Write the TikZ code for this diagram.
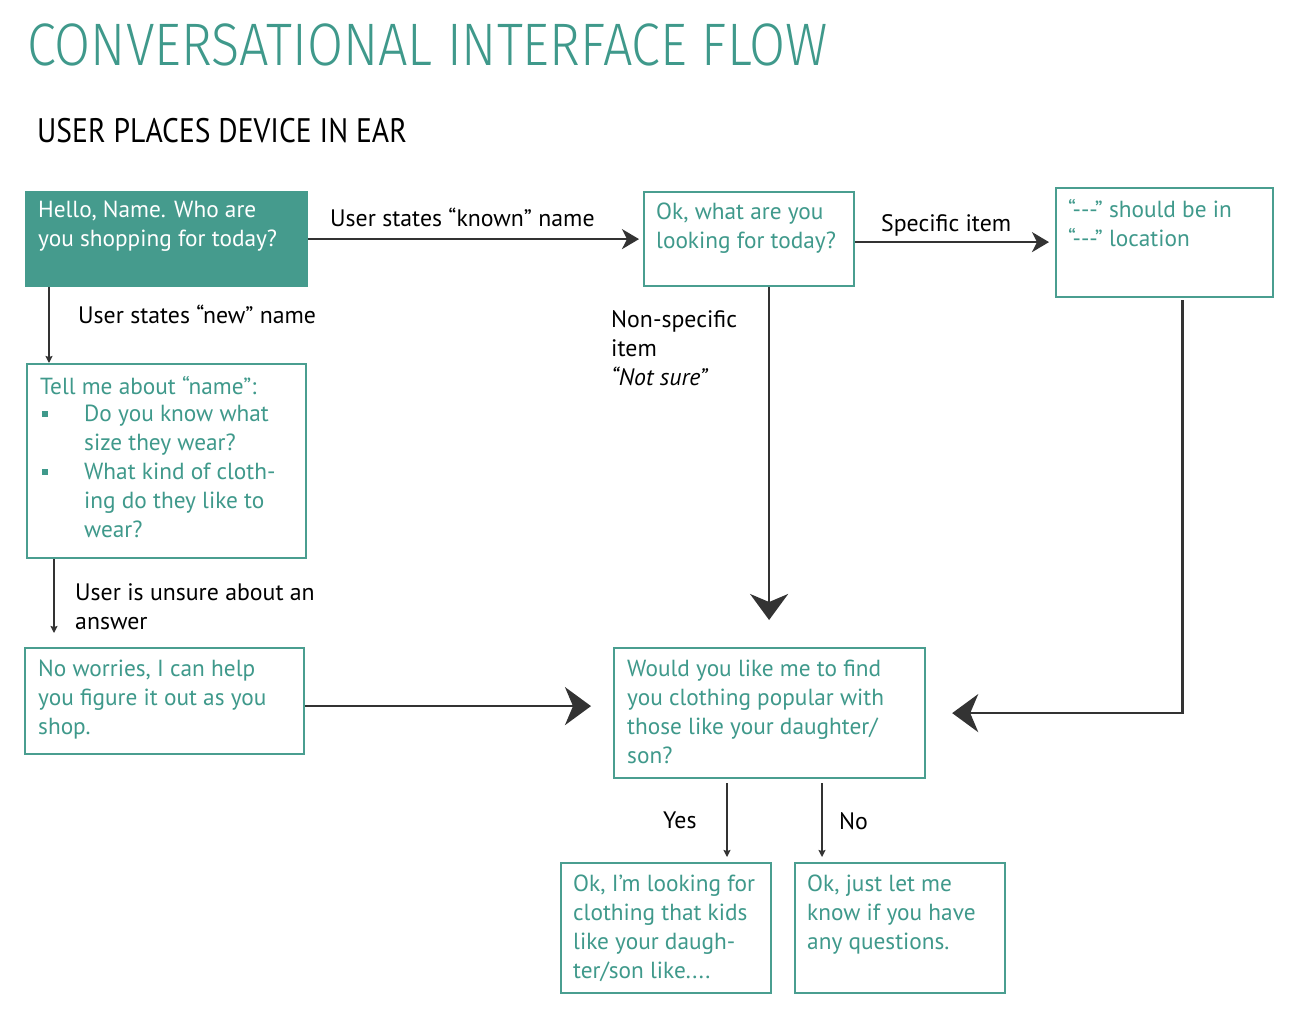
\documentclass[tikz,border=0pt]{standalone}
\usepackage{fontspec}
\setmainfont{PT Sans}
\newfontfamily\titlefont[FakeStretch=0.87]{Fira Sans Light}
\newfontfamily\subfont[FakeStretch=0.87]{PT Sans}
\usetikzlibrary{arrows.meta,calc}
\definecolor{tealfill}{HTML}{459B8D}
\definecolor{tealline}{HTML}{4A9E90}
\definecolor{tealtext}{HTML}{3F998B}
\definecolor{darkline}{HTML}{333333}
\tikzset{
  box/.style={draw=tealline,line width=2.2pt,rectangle,inner sep=0pt,anchor=north west},
  boxtext/.style={anchor=north west,inner sep=0pt,align=left,text=tealtext,font=\fontsize{23.3}{29}\selectfont},
  lbl/.style={anchor=north west,inner sep=0pt,align=left,text=black,font=\fontsize{23.8}{29}\selectfont},
  bigarrow/.style={draw=darkline,line width=2.4pt,-{Stealth[length=26pt,width=38pt,inset=8pt]}},
  medarrow/.style={draw=darkline,line width=2.4pt,-{Stealth[length=17pt,width=20pt,inset=5pt]}},
  smallarrow/.style={draw=darkline,line width=2pt,-{Stealth[length=7pt,width=7pt,inset=1pt]}},
}
\begin{document}
\begin{tikzpicture}[x=1pt,y=-1pt]
\useasboundingbox (0,0) rectangle (1290,1018);
\fill[white] (0,0) rectangle (1290,1018);
% titles
\node[anchor=base west,inner sep=0pt,text=tealtext,font=\titlefont\fontsize{60}{60}\selectfont] (title) at (27,65) {CONVERSATIONAL INTERFACE FLOW};
\node[anchor=base west,inner sep=0pt,text=black,font=\subfont\fontsize{34}{34}\selectfont] (subtitle) at (37,142) {USER PLACES DEVICE IN EAR};
% boxes
\node[box,fill=tealfill,draw=tealfill,minimum width=281pt,minimum height=94pt] (A) at (25,191) {};
\node[boxtext,text=white] (Atext) at (38,201) {Hello, Name. Who are\\you shopping for today?};
\node[box,minimum width=210pt,minimum height=94pt] (B) at (643,191) {};
\node[boxtext] (Btext) at (656,203) {Ok, what are you\\looking for today?};
\node[box,minimum width=217pt,minimum height=109pt] (C) at (1055,187) {};
\node[boxtext] (Ctext) at (1068,199) {“-{}-{}-” should be in\\“-{}-{}-” location};
\node[box,minimum width=279pt,minimum height=194pt] (D) at (26,363) {};
\node[boxtext] (Dtext) at (40,376) {Tell me about “name”:};
\node[boxtext] (Dtext2) at (84,405) {Do you know what\\size they wear?\\What kind of cloth-\\ing do they like to\\wear?};
\fill[tealtext] (42,411) rectangle (48,417);
\fill[tealtext] (42,469) rectangle (48,475);
\node[box,minimum width=279pt,minimum height=106pt] (E) at (24,647) {};
\node[boxtext] (Etext) at (38,660) {No worries, I can help\\you figure it out as you\\shop.};
\node[box,minimum width=311pt,minimum height=130pt] (F) at (613,647) {};
\node[boxtext] (Ftext) at (627,660) {Would you like me to find\\you clothing popular with\\those like your daughter/\\son?};
\node[box,minimum width=210pt,minimum height=130pt] (G) at (560,862) {};
\node[boxtext] (Gtext) at (573,875) {Ok, I’m looking for\\clothing that kids\\like your daugh-\\ter/son like....};
\node[box,minimum width=210pt,minimum height=130pt] (H) at (794,862) {};
\node[boxtext] (Htext) at (807,875) {Ok, just let me\\know if you have\\any questions.};
% labels
\node[lbl] (l1) at (330,208) {User states “known” name};
\node[lbl] (l2) at (881,214) {Specific item};
\node[lbl] (l3) at (78,305) {User states “new” name};
\node[lbl] (l4) at (611,310) {Non-specific\\item\\\textit{“Not sure”}};
\node[lbl] (l5) at (75,583) {User is unsure about an\\answer};
\node[lbl] (l6) at (663,812) {Yes};
\node[lbl] (l7) at (839,812) {No};
% connectors
\draw[medarrow] (A.east) -- ([xshift=-4pt]B.west);
\draw[medarrow] ([yshift=-3pt]B.east) -- ([xshift=-6pt,yshift=-3pt]B.east -| C.west);
\draw[smallarrow] ([xshift=24pt]A.south west) -- ([xshift=24pt]A.south west |- D.north);
\draw[smallarrow] ([xshift=28pt]D.south west) -- ([xshift=28pt,yshift=14pt]D.south west |- E.north);
\draw[bigarrow] ([xshift=20pt]B.south) -- ([xshift=20pt,yshift=27pt]B.south |- F.north);
\draw[bigarrow] ([yshift=-5pt]E.east) -- ([xshift=-22pt,yshift=-5pt]E.east -| F.west);
\draw[bigarrow] ([xshift=18pt,yshift=-2pt]C.south) |- ([xshift=26pt]F.east);
\draw[smallarrow] ([xshift=167pt,yshift=-4pt]G.north west |- F.south) -- ([xshift=167pt,yshift=5pt]G.north west);
\draw[smallarrow] ([xshift=28pt,yshift=-4pt]H.north west |- F.south) -- ([xshift=28pt,yshift=5pt]H.north west);
\end{tikzpicture}
\end{document}
